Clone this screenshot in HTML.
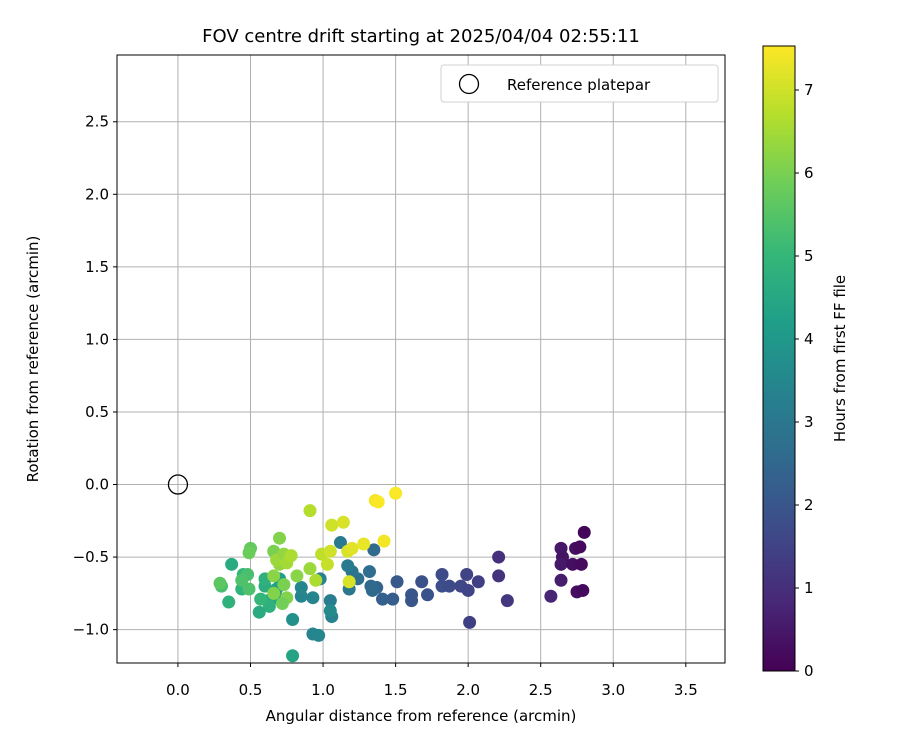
<!DOCTYPE html>
<html><head><meta charset="utf-8"><style>body{margin:0;background:#fff;font-family:"Liberation Sans","DejaVu Sans",sans-serif}</style></head>
<body>
<svg id="chart" width="900" height="750" xmlns="http://www.w3.org/2000/svg" font-family="DejaVu Sans, Liberation Sans, sans-serif">
<defs><linearGradient id="vir" x1="0" y1="1" x2="0" y2="0"></linearGradient></defs>
</svg>
<script>
const xs=[2.80,2.64,2.74,2.77,2.65,2.64,2.72,2.78,2.64,2.57,2.75,2.79,2.21,2.21,2.27,2.01,1.99,2.07,1.95,2.00,1.82,1.82,1.87,1.68,1.72,1.61,1.61,1.51,1.48,1.41,1.37,1.33,1.34,1.32,1.35,1.24,1.20,1.18,1.17,1.12,1.05,1.06,1.05,0.98,0.93,0.93,0.97,0.85,0.85,0.79,0.79,0.70,0.68,0.70,0.62,0.63,0.56,0.60,0.60,0.57,0.45,0.44,0.37,0.35,0.48,0.44,0.30,0.29,0.49,0.50,0.49,0.66,0.70,0.66,0.66,0.73,0.75,0.72,0.70,0.68,0.73,0.75,0.78,0.82,0.91,0.95,0.91,0.99,1.03,1.06,1.14,1.17,1.18,1.20,1.28,1.36,1.38,1.50,1.42,1.05];
const ys=[-0.33,-0.44,-0.44,-0.43,-0.50,-0.55,-0.55,-0.55,-0.66,-0.77,-0.74,-0.73,-0.50,-0.63,-0.80,-0.95,-0.62,-0.67,-0.70,-0.73,-0.62,-0.70,-0.70,-0.67,-0.76,-0.76,-0.80,-0.67,-0.79,-0.79,-0.71,-0.70,-0.73,-0.60,-0.45,-0.65,-0.60,-0.72,-0.56,-0.40,-0.80,-0.91,-0.87,-0.65,-0.78,-1.03,-1.04,-0.77,-0.71,-0.93,-1.18,-0.65,-0.72,-0.79,-0.80,-0.84,-0.88,-0.70,-0.65,-0.79,-0.62,-0.72,-0.55,-0.81,-0.62,-0.66,-0.70,-0.68,-0.72,-0.44,-0.47,-0.46,-0.37,-0.63,-0.75,-0.69,-0.78,-0.82,-0.55,-0.52,-0.48,-0.54,-0.49,-0.63,-0.58,-0.66,-0.18,-0.48,-0.55,-0.28,-0.26,-0.46,-0.67,-0.44,-0.41,-0.11,-0.12,-0.06,-0.39,-0.46];
const hours=[0.1,0.5,0.3,0.2,0.4,0.5,0.3,0.2,0.6,0.8,0.3,0.2,1.0,1.1,1.2,1.4,1.5,1.4,1.6,1.5,1.7,1.8,1.7,1.9,1.9,2.0,2.0,2.1,2.2,2.3,2.4,2.6,2.6,2.7,2.6,2.8,2.9,3.0,3.1,3.1,3.2,3.3,3.6,3.3,3.4,3.4,3.5,3.4,3.5,3.8,4.4,4.2,4.3,4.5,4.6,4.8,4.6,4.7,4.8,5.0,5.0,4.9,4.6,4.8,5.3,5.4,5.3,5.6,5.4,5.7,5.8,6.0,6.1,6.2,6.1,6.0,6.1,5.9,6.3,6.4,6.3,6.5,6.6,6.2,6.4,6.6,6.7,6.8,6.9,7.0,7.1,7.1,7.1,7.2,7.3,7.4,7.5,7.5,7.4,7.0];
const xTicks=[0.0,0.5,1.0,1.5,2.0,2.5,3.0,3.5];
const yTicks=[-1.0,-0.5,0.0,0.5,1.0,1.5,2.0,2.5];
const cTicks=[0,1,2,3,4,5,6,7];
const NS="http://www.w3.org/2000/svg",svg=document.getElementById('chart');
const L=117,R=725,T=55,B=663,xmin=-0.42,xmax=3.77,ymin=-1.23,ymax=2.96,hmax=7.53;
const sx=v=>L+(v-xmin)/(xmax-xmin)*(R-L), sy=v=>B-(v-ymin)/(ymax-ymin)*(B-T);
const CT=46,CB=671,CL=763,CR=795, sc=v=>CB-v/hmax*(CB-CT);
const V=[[68,1,84],[72,40,120],[62,74,137],[49,104,142],[38,130,142],[31,158,137],[53,183,121],[109,205,89],[180,222,44],[253,231,37]];
function vir(t){t=Math.max(0,Math.min(1,t))*9;const i=Math.min(8,Math.floor(t)),f=t-i;const c=V[i].map((a,k)=>Math.round(a+(V[i+1][k]-a)*f));return `rgb(${c})`;}
function el(tag,a,txt){const e=document.createElementNS(NS,tag);for(const k in a)e.setAttribute(k,a[k]);if(txt!==undefined)e.textContent=txt;svg.appendChild(e);return e;}
const g=document.getElementById('vir');
for(let i=0;i<=9;i++){const s=document.createElementNS(NS,'stop');s.setAttribute('offset',i/9);s.setAttribute('stop-color',`rgb(${V[i]})`);g.appendChild(s);}
xTicks.forEach(v=>{const x=sx(v);
 const l=el('line',{x1:x,x2:x,y1:T,y2:B,stroke:'#b0b0b0','stroke-width':1});
 el('line',{x1:x,x2:x,y1:B,y2:B+4,stroke:'#000'});
 const t=el('text',{x:x,y:B+32,'font-size':15,'text-anchor':'middle'},v.toFixed(1));});
yTicks.forEach(v=>{const y=sy(v);
 const l=el('line',{x1:L,x2:R,y1:y,y2:y,stroke:'#b0b0b0','stroke-width':1});
 el('line',{x1:L-4,x2:L,y1:y,y2:y,stroke:'#000'});
 const t=el('text',{x:L-8,y:y+5,'font-size':15,'text-anchor':'end'},v.toFixed(1).replace('-','−'));});
xs.forEach((x,i)=>{const c=el('circle',{cx:sx(x),cy:sy(ys[i]),r:6.5,fill:vir(hours[i]/hmax)});});
let r=el('circle',{cx:sx(0),cy:sy(0),r:9.5,fill:'none',stroke:'#000','stroke-width':1.3});
r=el('rect',{x:L,y:T,width:R-L,height:B-T,fill:'none',stroke:'#000','stroke-width':1});
r=el('rect',{x:441,y:65,width:277,height:37,rx:3,fill:'#fff',stroke:'#d0d0d0'});
el('circle',{cx:469,cy:84,r:9.5,fill:'none',stroke:'#000','stroke-width':1.3});
r=el('text',{x:507,y:90,'font-size':15},'Reference platepar');
r=el('text',{x:421,y:42,'font-size':18,'text-anchor':'middle'},'FOV centre drift starting at 2025/04/04 02:55:11');
r=el('text',{x:421,y:721,'font-size':15,'text-anchor':'middle'},'Angular distance from reference (arcmin)');
r=el('text',{x:0,y:0,'font-size':15,'text-anchor':'middle',transform:`translate(38,${(T+B)/2}) rotate(-90)`},'Rotation from reference (arcmin)');
r=el('rect',{x:CL,y:CT,width:CR-CL,height:CB-CT,fill:'url(#vir)',stroke:'#000'});
cTicks.forEach(v=>{const y=sc(v);el('line',{x1:CR,x2:CR+4,y1:y,y2:y,stroke:'#000'});
 const t=el('text',{x:CR+9,y:y+5,'font-size':15},String(v));});
r=el('text',{x:0,y:0,'font-size':15,'text-anchor':'middle',transform:`translate(845,${(CT+CB)/2}) rotate(-90)`},'Hours from first FF file');
</script>
</body></html>
